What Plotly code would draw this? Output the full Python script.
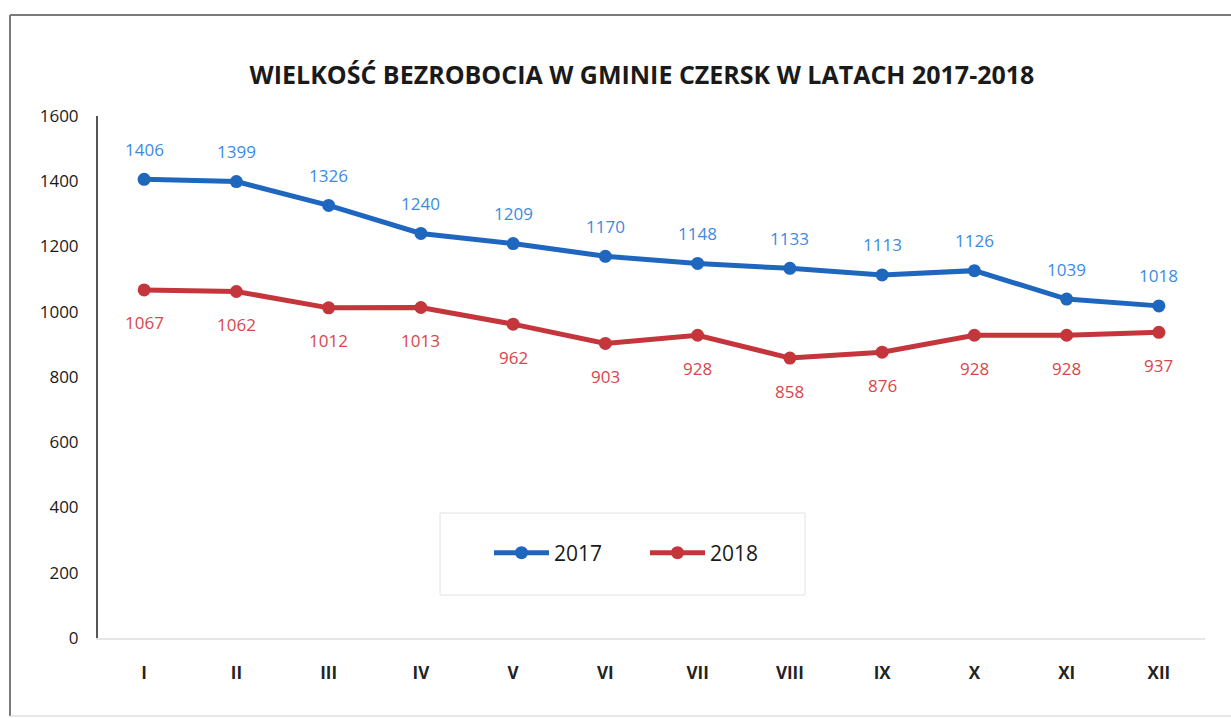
import plotly.graph_objects as go

months = ["I", "II", "III", "IV", "V", "VI", "VII", "VIII", "IX", "X", "XI", "XII"]
v2017 = [1406, 1399, 1326, 1240, 1209, 1170, 1148, 1133, 1113, 1126, 1039, 1018]
v2018 = [1067, 1062, 1012, 1013, 962, 903, 928, 858, 876, 928, 928, 937]
yticks = [0, 200, 400, 600, 800, 1000, 1200, 1400, 1600]

W, H = 1231, 718
L, R, T, B = 98, 1205, 116, 638

BLUE, BLUE_T = "#1F66BF", "#3C8BE3"
RED, RED_T = "#C4363C", "#D9464B"

fig = go.Figure()
fig.add_trace(go.Scatter(
    x=months, y=v2017, name="2017", mode="lines+markers",
    line=dict(color=BLUE, width=5), marker=dict(size=13, color=BLUE),
))
fig.add_trace(go.Scatter(
    x=months, y=v2018, name="2018", mode="lines+markers",
    line=dict(color=RED, width=5), marker=dict(size=13, color=RED),
))

annotations = []
for m, v in zip(months, v2017):
    annotations.append(dict(x=m, y=v, xref="x", yref="y", text=str(v), showarrow=False,
                            yshift=30, font=dict(family="Open Sans", size=17, color=BLUE_T)))
for m, v in zip(months, v2018):
    annotations.append(dict(x=m, y=v, xref="x", yref="y", text=str(v), showarrow=False,
                            yshift=-33, font=dict(family="Open Sans", size=17, color=RED_T)))

pw, ph = R - L, B - T
def px(x): return (x - L) / pw
def py(y): return (B - y) / ph

frame = dict(color="#7A7A7A", width=2)
# outer frame (top, left, bottom; right edge is outside the picture)
fig.add_shape(type="line", xref="paper", yref="paper", x0=px(10), x1=px(1240),
              y0=py(15), y1=py(15), line=frame, layer="below")
fig.add_shape(type="line", xref="paper", yref="paper", x0=px(10), x1=px(10),
              y0=py(15), y1=py(716), line=frame, layer="below")
fig.add_shape(type="line", xref="paper", yref="paper", x0=px(10), x1=px(1240),
              y0=py(716), y1=py(716), line=dict(color="#D0D0D0", width=1), layer="below")
# legend box
fig.add_shape(type="rect", xref="paper", yref="paper",
              x0=px(440), x1=px(805), y0=py(595), y1=py(513),
              line=dict(color="#E2E2E2", width=1), layer="below")

fig.update_layout(
    width=W, height=H,
    margin=dict(l=L, r=W - R, t=T, b=H - B),
    paper_bgcolor="white", plot_bgcolor="white",
    annotations=annotations,
    title=dict(text="<b>WIELKOŚĆ BEZROBOCIA W GMINIE CZERSK W LATACH 2017-2018</b>",
               x=(642) / W, xanchor="center", y=1 - 75 / H, yanchor="middle",
               font=dict(family="Liberation Sans Narrow, Open Sans", size=25, color="#1A1A1A")),
    showlegend=True,
    legend=dict(orientation="h", x=px(645), xanchor="center", y=py(553), yanchor="middle",
                font=dict(family="Open Sans", size=21, color="#1A1A1A"),
                bgcolor="rgba(0,0,0,0)", borderwidth=0, entrywidth=86, itemwidth=55),
    xaxis=dict(type="category", range=[-0.5, 11.5], showgrid=False, zeroline=False,
               showline=True, linecolor="#E6E6E6", linewidth=2, ticks="",
               ticklabelstandoff=19,
               tickfont=dict(family="Open Sans", size=17, color="#222222", weight="bold")),
    yaxis=dict(range=[0, 1600], tickvals=yticks, showgrid=False, zeroline=False,
               showline=True, linecolor="#555555", linewidth=2, ticks="",
               ticklabelstandoff=14,
               tickfont=dict(family="Open Sans", size=17, color="#1A1A1A")),
)
fig.write_html("out.html", config={"displayModeBar": False},
               post_script="document.body.style.margin='0';document.body.style.overflow='hidden';")
